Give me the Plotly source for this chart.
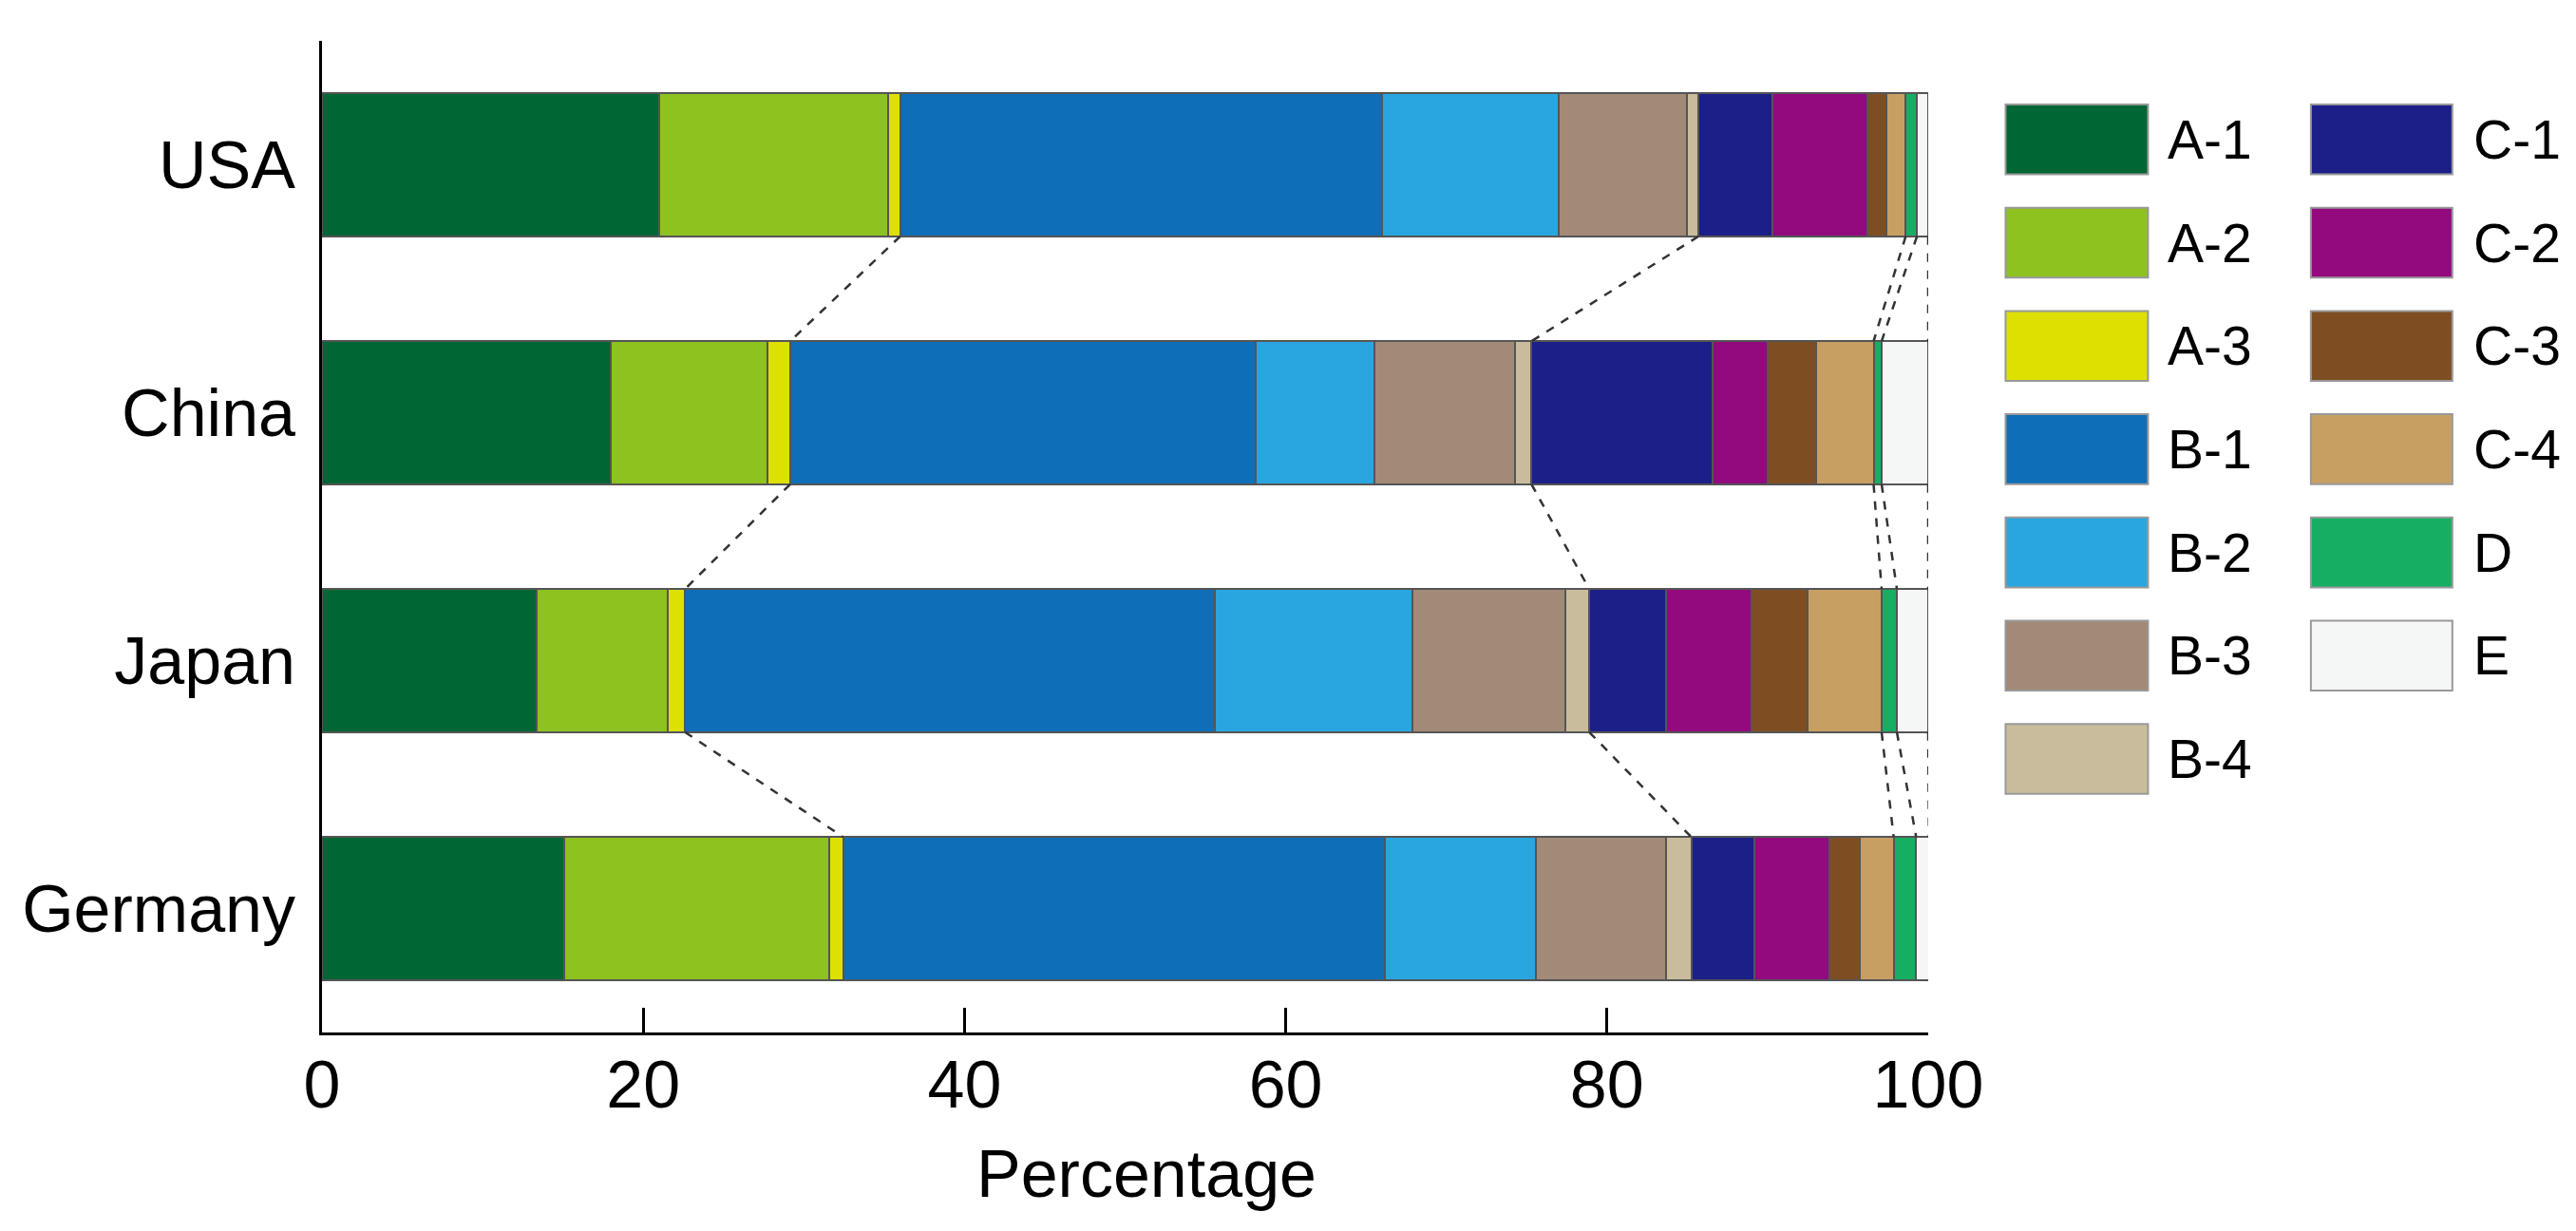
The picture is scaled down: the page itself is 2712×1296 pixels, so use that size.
import numpy as np
import plotly.graph_objects as go

countries = ["USA", "China", "Japan", "Germany"]
y_pos = [3, 2, 1, 0]

series = ["A-1", "A-2", "A-3", "B-1", "B-2", "B-3", "B-4",
          "C-1", "C-2", "C-3", "C-4", "D", "E"]
colors = ["#006633", "#8DC21F", "#DDE000", "#0E6EB8", "#29A6E0", "#A38A77", "#C9BC9C",
          "#1C1F87", "#920A7E", "#7E4E22", "#C79F63", "#16AE62", "#F5F7F6"]

# values per series, in order USA, China, Japan, Germany
A1 = [21.0, 18.0, 13.35, 15.1]
A2 = [14.25, 9.75, 8.2, 16.5]
A3 = [0.75, 1.4, 1.05, 0.85]
B1 = [30.0, 29.0, 33.0, 33.7]
B2 = [11.0, 7.4, 12.3, 9.4]
B3 = [7.95, 8.75, 9.5, 8.1]
B4 = [0.75, 1.0, 1.5, 1.6]
C1 = [4.6, 11.3, 4.8, 3.9]
C2 = [5.9, 3.4, 5.3, 4.7]
C3 = [1.2, 3.0, 3.5, 1.9]
C4 = [1.2, 3.6, 4.6, 2.1]
D = [0.7, 0.5, 0.95, 1.4]
E = [0.7, 2.9, 1.95, 0.8]
values = [A1, A2, A3, B1, B2, B3, B4, C1, C2, C3, C4, D, E]

x_ticks = [0, 20, 40, 60, 80, 100]
x_title = "Percentage"

# boundaries joined by dashed connectors (after A-3, B-4, C-4, D, E)
connector_after = [2, 6, 10, 11, 12]

FONT = "Liberation Sans, Arial, sans-serif"
BAR_W = 0.577
FIG_W, FIG_H = 2712, 1296

fig = go.Figure()
for name, col, vals in zip(series, colors, values):
    fig.add_trace(go.Bar(
        x=vals, y=y_pos, orientation="h", name=name, width=BAR_W,
        marker=dict(color=col, line=dict(color="#555555", width=2)),
        showlegend=False,
    ))

cum = np.cumsum(np.array(values), axis=0)  # shape (series, countries)
for idx in connector_after:
    for i in range(len(countries) - 1):
        x0 = cum[idx][i]
        x1 = cum[idx][i + 1]
        ya = y_pos[i] - BAR_W / 2
        yb = y_pos[i + 1] + BAR_W / 2
        fig.add_trace(go.Scatter(
            x=[x0, x1], y=[ya, yb], mode="lines",
            line=dict(color="#333333", width=2.5, dash="dash"),
            showlegend=False, hoverinfo="skip",
        ))

# pixel geometry of the plot area
L, R, T, B = 338.5, 2030.0, 43.0, 1087.0
W_PX, H_PX = R - L, B - T


def px_x(px):
    return (px - L) / W_PX


def px_y(py):
    return (B - py) / H_PX


shapes = []
annotations = []
col_x = [(2111.5, 2261.5, 2280.0), (2433.0, 2582.0, 2602.0)]
row0, pitch, sw_h = 146.8, 108.7, 73.6
for k, (name, col) in enumerate(zip(series, colors)):
    c = 0 if k < 7 else 1
    r = k if k < 7 else k - 7
    cy = row0 + r * pitch
    sx0, sx1, tx = col_x[c]
    shapes.append(dict(
        type="rect", xref="paper", yref="paper",
        x0=px_x(sx0), x1=px_x(sx1), y0=px_y(cy + sw_h / 2), y1=px_y(cy - sw_h / 2),
        fillcolor=col, line=dict(color="#999999", width=2),
    ))
    annotations.append(dict(
        xref="paper", yref="paper", x=px_x(tx), y=px_y(cy),
        text=name, showarrow=False, xanchor="left", yanchor="middle",
        font=dict(family=FONT, size=57, color="#000000"),
    ))

annotations.append(dict(
    xref="paper", yref="paper", x=px_x(1207), y=px_y(1236),
    text=x_title, showarrow=False, xanchor="center", yanchor="middle",
    font=dict(family=FONT, size=70, color="#000000"),
))

fig.update_layout(
    width=FIG_W, height=FIG_H,
    barmode="stack",
    plot_bgcolor="white",
    paper_bgcolor="white",
    margin=dict(l=L, r=FIG_W - R, t=T, b=FIG_H - B, pad=0),
    font=dict(family=FONT, color="#000000"),
    shapes=shapes,
    annotations=annotations,
    showlegend=False,
)
fig.update_xaxes(
    range=[0, 100], tickvals=x_ticks, ticktext=[str(v) for v in x_ticks],
    showline=True, linecolor="#000000", linewidth=3,
    ticks="inside", ticklen=26, tickwidth=2.5, tickcolor="#000000",
    tickfont=dict(family=FONT, size=70), showgrid=False, zeroline=False,
    ticklabelstandoff=-8,
)
fig.update_yaxes(
    range=[-0.5, 3.5], tickvals=y_pos, ticktext=countries,
    showline=True, linecolor="#000000", linewidth=3,
    ticks="", tickfont=dict(family=FONT, size=70), showgrid=False, zeroline=False,
    ticklabelstandoff=11,
)

fig.write_html(
    "out.html",
    config={"displayModeBar": False},
    post_script="document.documentElement.style.margin='0';"
                "document.body.style.margin='0';"
                "document.body.style.overflow='hidden';",
)
